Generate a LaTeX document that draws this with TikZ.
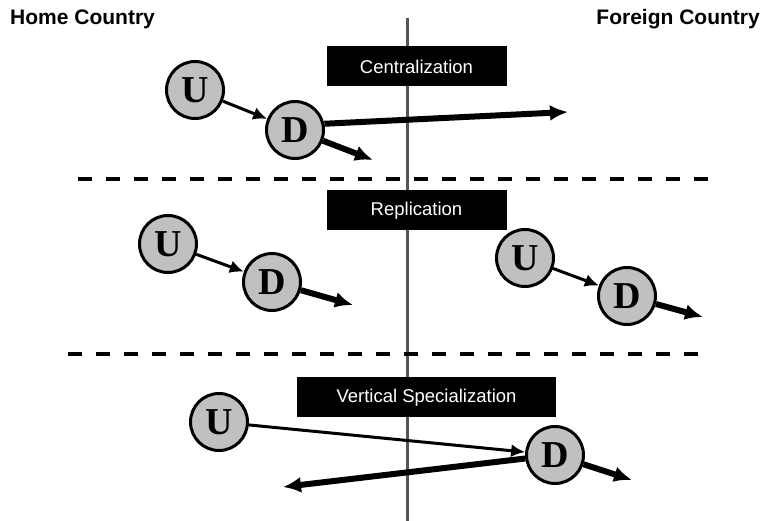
\documentclass[tikz,border=0pt]{standalone}
\usepackage{fontspec}
\setmainfont{Liberation Sans}
\newfontfamily\letterfont{Liberation Serif}
\usetikzlibrary{arrows.meta}

\definecolor{firmgray}{HTML}{C0C0C0}
\definecolor{divgray}{HTML}{555555}

\tikzset{
  firm/.style={circle, draw=black, line width=3pt, fill=firmgray, minimum size=57pt, inner sep=0pt,
    font=\letterfont\bfseries\fontsize{38}{38}\selectfont},
  modebox/.style={fill=black, text=white, minimum height=40pt, inner sep=0pt,
    font=\fontsize{18.5}{20}\selectfont},
  country/.style={font=\bfseries\fontsize{21}{24}\selectfont, inner sep=0pt},
  link/.style={-{Latex[length=14pt,width=13pt]}, line width=3pt},
  ship/.style={-{Latex[length=18pt,width=16pt]}, line width=6pt},
  split/.style={line width=4pt, dash pattern=on 14pt off 14pt}
}

\begin{document}
\begin{tikzpicture}[x=1pt,y=-1pt]
\useasboundingbox (0,0) rectangle (764,521);

\node[country, anchor=base west] (home) at (10,25) {Home Country};
\node[country, anchor=base east] (foreign) at (760,25) {Foreign Country};

% border line
\coordinate (bordertop) at (407,18);
\coordinate (borderbot) at (407,521);
\draw[line width=3pt, divgray] (bordertop) -- (borderbot);

% dashed separators
\coordinate (splitAl) at (78,179);
\coordinate (splitAr) at (722,179);
\draw[split] (splitAl) -- (splitAr);
\coordinate (splitBl) at (68,354);
\coordinate (splitBr) at (712,354);
\draw[split] (splitBl) -- (splitBr);

% centralization
\node[modebox, minimum width=180pt] (cenbox) at (416.5,66.5) {Centralization};
\node[firm] (cenU) at (195,90) {U};
\node[firm] (cenD) at (295,130) {D};
\coordinate (cenOut) at (568,112);
\coordinate (cenHome) at (373,160);
\draw[link] (cenU) -- (cenD);
\draw[ship] (cenD.12) -- (cenOut);
\draw[ship] (cenD) -- (cenHome);

% replication
\node[modebox, minimum width=180pt] (repbox) at (416.5,210.5) {Replication};
\node[firm] (repUh) at (168,244) {U};
\node[firm] (repDh) at (272,282) {D};
\coordinate (repOuth) at (353,305);
\draw[link] (repUh) -- (repDh);
\draw[ship] (repDh) -- (repOuth);

% right one
\node[firm] (repUf) at (525,258) {U};
\node[firm] (repDf) at (627,296) {D};
\coordinate (repOutf) at (703,317);
\draw[link] (repUf) -- (repDf);
\draw[ship] (repDf) -- (repOutf);

% vertical specialization
\node[modebox, minimum width=259pt] (verbox) at (426.5,397.5) {Vertical Specialization};
\node[firm] (verU) at (219,422) {U};
\node[firm] (verD) at (555,455) {D};
\coordinate (verBack) at (283,487);
\coordinate (verOut) at (632,480);
\draw[link] (verU) -- (verD);
\draw[ship] (verD) -- (verBack);
\draw[ship] (verD) -- (verOut);

\end{tikzpicture}
\end{document}
